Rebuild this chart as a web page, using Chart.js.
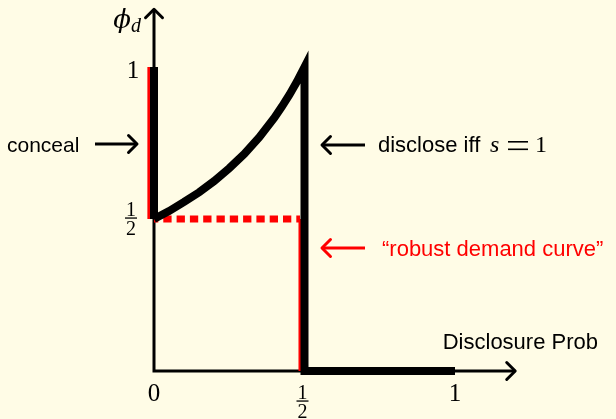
<!DOCTYPE html>
<html>
<head>
<meta charset="utf-8">
<script src="https://cdn.jsdelivr.net/npm/chart.js@4"></script>
<style>
html, body { margin: 0; padding: 0; background: #fffce6; }
canvas { display: block; }
</style>
</head>
<body>
<canvas id="chart" width="616" height="419"></canvas>
<script>
// phi_d as a function of the disclosure probability
const curveX = [0, 0.05, 0.1, 0.15, 0.2, 0.25, 0.3, 0.35, 0.4, 0.425, 0.45, 0.475, 0.5];
const curveY = [0.5, 0.526, 0.556, 0.588, 0.625, 0.667, 0.714, 0.769, 0.833, 0.87, 0.909, 0.952, 1.0];
// jump down at 1/2, then flat at 0 up to 1
const stepX = [0.5, 0.5, 1];
const stepY = [1, 0, 0];
// conceal: vertical piece at 0
const concealX = [0, 0];
const concealY = [1, 0.5];
// "robust demand curve" (red), drawn just left of the black pieces
const robustLeftX = [-0.017, -0.017];
const robustLeftY = [1, 0.5];
const robustFlatX = [0, 0.485];
const robustFlatY = [0.5, 0.5];
const robustDropX = [0.485, 0.485];
const robustDropY = [0.5, 0];
// axes (with arrow tips)
const axisX = [0, 0, 1.2];
const axisY = [1.19, 0, 0];
// tick labels
const xTicks = [{ v: 0, t: '0' }, { v: 0.5, t: '1/2' }, { v: 1, t: '1' }];
const yTicks = [{ v: 0.5, t: '1/2' }, { v: 1, t: '1' }];

const bg = '#fffce6';
const RED = '#ff0000';
const serif = '"Liberation Serif", "DejaVu Serif"';
const sans = '"Liberation Sans", "DejaVu Sans"';

function pts(xs, ys) {
    return xs.map((x, i) => ({ x: x, y: ys[i] }));
}

function head(ctx, x, y, ang, color) {
    const L = 12, a = Math.PI / 4;
    ctx.save();
    ctx.strokeStyle = color;
    ctx.lineWidth = 3;
    ctx.lineCap = 'round';
    ctx.lineJoin = 'round';
    ctx.beginPath();
    ctx.moveTo(x - L * Math.cos(ang - a), y - L * Math.sin(ang - a));
    ctx.lineTo(x, y);
    ctx.lineTo(x - L * Math.cos(ang + a), y - L * Math.sin(ang + a));
    ctx.stroke();
    ctx.restore();
}

function arrow(ctx, x1, x2, y, color) {
    ctx.save();
    ctx.strokeStyle = color;
    ctx.lineWidth = 3;
    ctx.beginPath();
    ctx.moveTo(x1, y);
    ctx.lineTo(x2, y);
    ctx.stroke();
    ctx.restore();
    head(ctx, x2, y, x2 > x1 ? 0 : Math.PI, color);
}

function frac(ctx, cx, cy, size) {
    // cy = fraction bar position
    ctx.font = size + 'px ' + serif;
    ctx.textAlign = 'center';
    ctx.textBaseline = 'alphabetic';
    ctx.fillText('1', cx, cy - 2.5);
    ctx.fillText('2', cx, cy + size * 0.68 + 3);
    ctx.fillRect(cx - 6, cy - 0.6, 12, 1.3);
}

const decorations = {
    id: 'decorations',
    beforeDraw(chart) {
        const ctx = chart.ctx;
        ctx.save();
        ctx.fillStyle = bg;
        ctx.fillRect(0, 0, chart.width, chart.height);
        ctx.restore();
    },
    afterDatasetsDraw(chart) {
        const ctx = chart.ctx;
        const xs = chart.scales.x, ys = chart.scales.y;
        ctx.save();

        // arrow tips of the axes
        head(ctx, xs.getPixelForValue(axisX[0]), ys.getPixelForValue(axisY[0]), -Math.PI / 2, '#000');
        head(ctx, xs.getPixelForValue(axisX[2]), ys.getPixelForValue(axisY[2]), 0, '#000');

        ctx.fillStyle = '#000';
        // tick labels
        xTicks.forEach(tk => {
            const px = xs.getPixelForValue(tk.v);
            if (tk.t === '1/2') {
                frac(ctx, px - 2, 401, 20);
            } else {
                ctx.font = '25px ' + serif;
                ctx.textAlign = 'center';
                ctx.textBaseline = 'alphabetic';
                ctx.fillText(tk.t, px, 401);
            }
        });
        yTicks.forEach(tk => {
            const py = ys.getPixelForValue(tk.v);
            if (tk.t === '1/2') {
                frac(ctx, 131, py - 1, 20);
            } else {
                ctx.font = '25px ' + serif;
                ctx.textAlign = 'center';
                ctx.textBaseline = 'alphabetic';
                ctx.fillText(tk.t, 133, py + 11);
            }
        });

        // axis names
        ctx.font = 'italic 26px "DejaVu Serif", "Liberation Serif"';
        ctx.textAlign = 'center';
        ctx.fillText('\u03d5', 122, 28);
        ctx.font = 'italic 20px ' + serif;
        ctx.fillText('d', 136, 32);

        ctx.font = '22px ' + sans;
        ctx.textAlign = 'right';
        ctx.fillText('Disclosure Prob', 598, 349);

        // annotations
        ctx.textAlign = 'left';
        ctx.font = '21px ' + sans;
        ctx.fillText('conceal', 7, 152);
        arrow(ctx, 95, 137, 144, '#000');

        arrow(ctx, 365, 322, 145, '#000');
        ctx.font = '22px ' + sans;
        ctx.fillText('disclose iff', 378, 152);
        ctx.font = 'italic 24px ' + serif;
        ctx.fillText('s', 490, 152);
        // equals sign, drawn as two bars
        ctx.fillRect(508, 141, 20, 1.6);
        ctx.fillRect(508, 148.5, 20, 1.6);
        ctx.font = '24px ' + serif;
        ctx.fillText('1', 535, 152);

        arrow(ctx, 365, 322, 248, RED);
        ctx.fillStyle = RED;
        ctx.font = '22px ' + sans;
        ctx.fillText('\u201crobust demand curve\u201d', 382, 256);

        ctx.restore();
    }
};

const ctx = document.getElementById('chart').getContext('2d');
const chart = new Chart(ctx, {
    type: 'scatter',
    data: {
        datasets: [
            {
                label: 'curve',
                data: pts(curveX, curveY).concat(pts(stepX, stepY).slice(1)),
                showLine: true,
                borderColor: '#000',
                borderWidth: 8,
                borderJoinStyle: 'miter',
                pointRadius: 0,
                tension: 0,
                order: 1
            },
            {
                label: 'conceal',
                data: pts(concealX, concealY),
                showLine: true,
                borderColor: '#000',
                borderWidth: 8,
                pointRadius: 0,
                order: 2
            },
            {
                label: 'robust left',
                data: pts(robustLeftX, robustLeftY),
                showLine: true,
                borderColor: RED,
                borderWidth: 3,
                pointRadius: 0,
                order: 3
            },
            {
                label: 'robust flat',
                data: pts(robustFlatX, robustFlatY),
                showLine: true,
                borderColor: RED,
                borderWidth: 7,
                borderDash: [8.3, 5],
                borderDashOffset: 4,
                pointRadius: 0,
                order: 3
            },
            {
                label: 'robust drop',
                data: pts(robustDropX, robustDropY),
                showLine: true,
                borderColor: RED,
                borderWidth: 3,
                pointRadius: 0,
                order: 3
            },
            {
                label: 'axes',
                data: pts(axisX, axisY),
                showLine: true,
                borderColor: '#000',
                borderWidth: 3,
                borderJoinStyle: 'miter',
                pointRadius: 0,
                order: 4
            }
        ]
    },
    options: {
        responsive: false,
        devicePixelRatio: 1,
        animation: false,
        layout: { padding: 0 },
        plugins: {
            legend: { display: false },
            tooltip: { enabled: false }
        },
        scales: {
            x: { type: 'linear', display: false, min: -154 / 301, max: 462 / 301 },
            y: { type: 'linear', display: false, min: -48 / 304, max: 371 / 304 }
        }
    },
    plugins: [decorations]
});
</script>
</body>
</html>
